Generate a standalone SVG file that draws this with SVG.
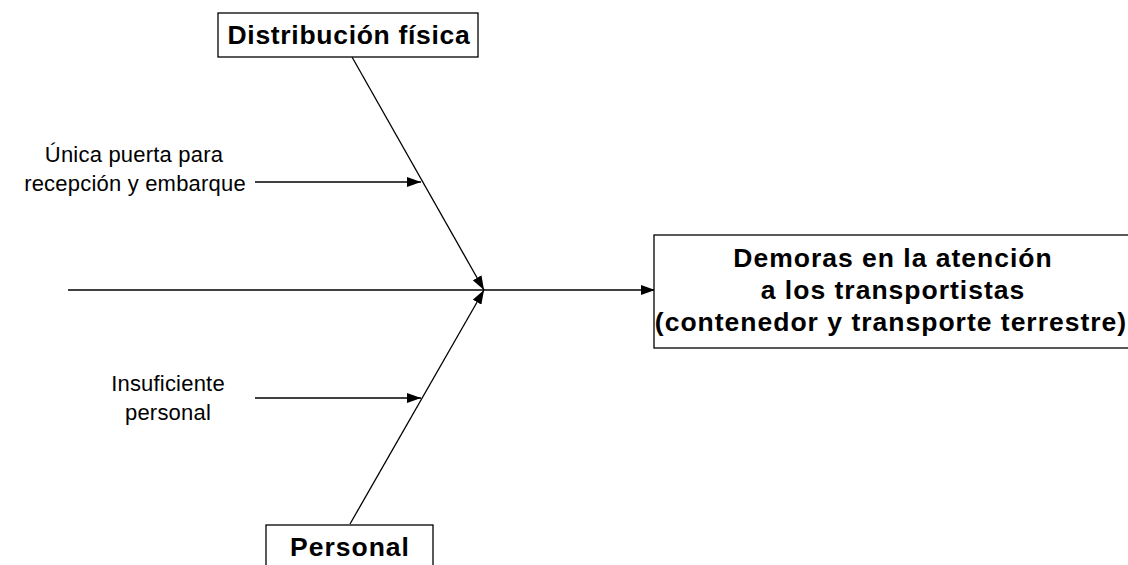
<svg xmlns="http://www.w3.org/2000/svg" width="1128" height="565" viewBox="0 0 1128 565">
<style>
.box{fill:#fff;stroke:#000;stroke-width:1.3}
.big{font-family:"Liberation Sans",Arial,sans-serif;font-weight:bold;font-size:26.5px;letter-spacing:1px;text-anchor:middle;fill:#000}
.small{font-family:"Liberation Sans",Arial,sans-serif;font-size:22px;letter-spacing:0.2px;text-anchor:middle;fill:#000}
.ln{stroke:#000;stroke-width:1.3;fill:none;marker-end:url(#ah)}
</style>
<defs>
<marker id="ah" viewBox="0 0 14 10" refX="14" refY="5" markerWidth="14" markerHeight="10" markerUnits="userSpaceOnUse" orient="auto">
<path d="M0,0 L14,5 L0,10 z" fill="#000"/>
</marker>
</defs>
<rect width="1128" height="565" fill="#fff"/>
<g id="connectors">
<line class="ln" x1="68" y1="290" x2="655" y2="290"/>
<line class="ln" x1="352" y1="57" x2="484" y2="290"/>
<line class="ln" x1="350" y1="524" x2="484" y2="290"/>
<line class="ln" x1="255" y1="182" x2="421" y2="182"/>
<line class="ln" x1="255" y1="398" x2="421" y2="398"/>
</g>
<g id="distribucion">
<rect class="box" x="218" y="13" width="260" height="44"/>
<text class="big" x="349" y="44" style="letter-spacing:0.7px">Distribución física</text>
</g>
<g id="personal">
<rect class="box" x="266" y="525" width="167" height="50"/>
<text class="big" x="350" y="556">Personal</text>
</g>
<g id="efecto">
<rect class="box" x="654" y="235" width="480" height="113"/>
<text class="big" x="893" y="267">Demoras en la atención</text>
<text class="big" x="893" y="299">a los transportistas</text>
<text class="big" x="891" y="331">(contenedor y transporte terrestre)</text>
</g>
<g id="causa1">
<text class="small" x="134" y="162">Única puerta para</text>
<text class="small" x="135" y="191">recepción y embarque</text>
</g>
<g id="causa2">
<text class="small" x="168" y="391">Insuficiente</text>
<text class="small" x="168" y="420">personal</text>
</g>
</svg>
